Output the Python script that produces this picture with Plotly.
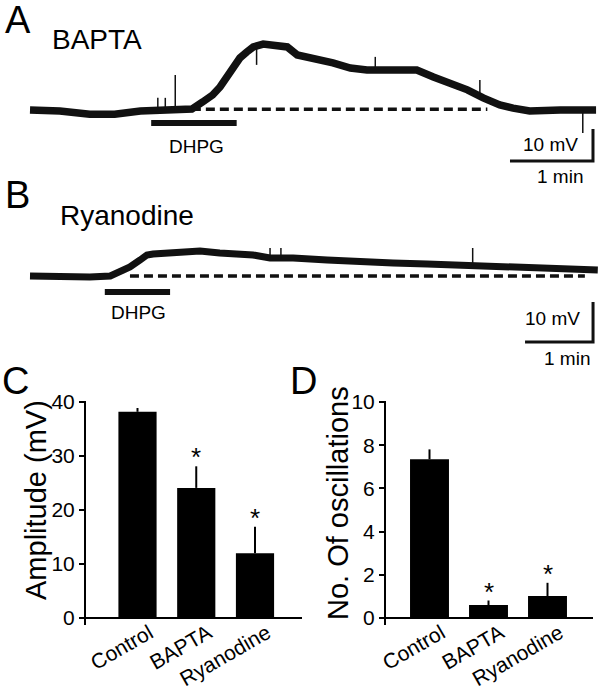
import plotly.graph_objects as go

W, H = 604, 690
FONT = "Liberation Sans, Arial, sans-serif"

# ---------------- Panel A (BAPTA) trace: time (min), membrane potential (mV) ----------------
a_time = [0.00, 0.36, 0.72, 1.02, 1.33, 1.69, 1.95, 2.08, 2.20, 2.29, 2.37, 2.45, 2.53, 2.61,
          2.69, 2.81, 2.98, 3.10, 3.22, 3.46, 3.65, 3.86, 4.06, 4.46, 4.66, 4.86, 5.06, 5.27,
          5.46, 5.66, 5.82, 6.02, 6.39, 6.82]
a_mv = [0.0, -0.3, -1.3, -1.3, -0.3, 0.0, 0.3, 2.5, 4.7, 7.2, 10.3, 13.4, 16.3, 18.1,
        19.7, 20.6, 20.3, 19.7, 17.2, 15.9, 14.7, 13.1, 12.5, 12.5, 12.5, 10.3, 8.4, 6.3,
        3.8, 1.6, 0.6, -0.3, 0.0, 0.0]
# spikes: time, base, tip
a_spike_t = [1.54, 1.63, 1.75, 2.73, 4.16, 5.42, 6.66]
a_spike_base = [0.0, 0.0, 0.0, 19.9, 12.8, 4.0, 0.0]
a_spike_tip = [3.8, 3.8, 10.9, 14.1, 16.6, 9.4, -7.2]
a_dash = [1.95, 5.51]
a_dhpg = [1.46, 2.49]

# ---------------- Panel B (Ryanodine) trace ----------------
b_time = [0.00, 0.44, 0.88, 1.18, 1.32, 1.47, 1.62, 1.72, 1.81, 2.06, 2.31, 2.50, 2.79, 3.28,
          3.53, 3.87, 4.37, 4.85, 5.34, 5.84, 6.32, 6.81, 7.35, 7.79, 8.35]
b_mv = [0.0, -0.25, -0.25, 0.0, 1.0, 2.25, 4.0, 5.25, 5.5, 5.75, 6.0, 6.25, 5.75, 5.25,
        4.5, 4.5, 4.0, 3.5, 3.25, 3.0, 2.75, 2.5, 2.25, 1.75, 1.5]
b_spike_t = [3.53, 3.69, 6.51]
b_spike_base = [4.5, 4.4, 2.7]
b_spike_tip = [7.0, 7.0, 7.0]
b_dash = [1.47, 8.16]
b_dhpg = [1.10, 2.06]

# ---------------- Panels C and D (bar charts) ----------------
groups = ["Control", "BAPTA", "Ryanodine"]
amp_mean = [38.2, 24.1, 12.0]
amp_sem = [0.7, 4.0, 4.9]
osc_mean = [7.35, 0.60, 1.02]
osc_sem = [0.46, 0.21, 0.61]
signif = ["", "*", "*"]

fig = go.Figure()

def spikes(ts, bases, tips):
    xs, ys = [], []
    for t, b, p in zip(ts, bases, tips):
        xs += [t, t, None]
        ys += [b, p, None]
    return xs, ys

line_col = "#111111"

# Panel A
fig.add_trace(go.Scatter(x=a_time, y=a_mv, mode="lines", line=dict(color=line_col, width=7.5),
                         xaxis="x", yaxis="y", hoverinfo="skip"))
sx, sy = spikes(a_spike_t, a_spike_base, a_spike_tip)
fig.add_trace(go.Scatter(x=sx, y=sy, mode="lines", line=dict(color=line_col, width=1.5),
                         xaxis="x", yaxis="y", hoverinfo="skip"))
fig.add_trace(go.Scatter(x=a_dash, y=[0.2, 0.2], mode="lines",
                         line=dict(color=line_col, width=3.5, dash="9px,5px"),
                         xaxis="x", yaxis="y", hoverinfo="skip"))
fig.add_trace(go.Scatter(x=a_dhpg, y=[-4.1, -4.1], mode="lines", line=dict(color=line_col, width=6),
                         xaxis="x", yaxis="y", hoverinfo="skip"))
# scale bar A (1 min x 10 mV)
fig.add_trace(go.Scatter(x=[5.783, 6.783, 6.783], y=[-15.9, -15.9, -5.9], mode="lines",
                         line=dict(color=line_col, width=3), xaxis="x", yaxis="y", hoverinfo="skip"))

# Panel B
fig.add_trace(go.Scatter(x=b_time, y=b_mv, mode="lines", line=dict(color=line_col, width=7),
                         xaxis="x2", yaxis="y2", hoverinfo="skip"))
sx, sy = spikes(b_spike_t, b_spike_base, b_spike_tip)
fig.add_trace(go.Scatter(x=sx, y=sy, mode="lines", line=dict(color=line_col, width=1.5),
                         xaxis="x2", yaxis="y2", hoverinfo="skip"))
fig.add_trace(go.Scatter(x=b_dash, y=[0.0, 0.0], mode="lines",
                         line=dict(color=line_col, width=3.5, dash="9px,5px"),
                         xaxis="x2", yaxis="y2", hoverinfo="skip"))
fig.add_trace(go.Scatter(x=b_dhpg, y=[-4.0, -4.0], mode="lines", line=dict(color=line_col, width=6),
                         xaxis="x2", yaxis="y2", hoverinfo="skip"))
fig.add_trace(go.Scatter(x=[7.28, 8.28, 8.28], y=[-16.5, -16.5, -6.5], mode="lines",
                         line=dict(color=line_col, width=3), xaxis="x2", yaxis="y2", hoverinfo="skip"))

# Panel C bars
xpos = [0, 1, 2]
fig.add_trace(go.Bar(x=xpos, y=amp_mean, width=0.65, marker=dict(color="#000000", line=dict(width=0)),
                     error_y=dict(type="data", array=amp_sem, arrayminus=[0, 0, 0], symmetric=False,
                                  color="#000000", thickness=2, width=0),
                     xaxis="x3", yaxis="y3", hoverinfo="skip"))
# Panel D bars
fig.add_trace(go.Bar(x=xpos, y=osc_mean, width=0.66, marker=dict(color="#000000", line=dict(width=0)),
                     error_y=dict(type="data", array=osc_sem, arrayminus=[0, 0, 0], symmetric=False,
                                  color="#000000", thickness=2, width=0),
                     xaxis="x4", yaxis="y4", hoverinfo="skip"))

def py(p):
    return 1 - p / H

def px(p):
    return p / W

hidden = dict(visible=False, showgrid=False, zeroline=False, fixedrange=True, automargin=False)

tick_font = dict(family=FONT, size=21, color="#000")
cat_font = dict(family=FONT, size=21, color="#000")

fig.update_layout(
    template="none",
    width=W, height=H, margin=dict(l=0, r=0, t=0, b=0, pad=0, autoexpand=False),
    paper_bgcolor="white", plot_bgcolor="rgba(0,0,0,0)", showlegend=False,
    font=dict(family=FONT, color="#000"),
    xaxis=dict(domain=[0, 1], range=[-30 / 83, 574 / 83], anchor="y", **hidden),
    yaxis=dict(domain=[py(180), 1], range=[(110 - 180) / 3.2, 110 / 3.2], anchor="x", **hidden),
    xaxis2=dict(domain=[0, 1], range=[-30 / 68, 574 / 68], anchor="y2", **hidden),
    yaxis2=dict(domain=[py(370), py(180)], range=[(276 - 370) / 4.0, (276 - 180) / 4.0], anchor="x2", **hidden),
    xaxis3=dict(domain=[px(86), px(302)], range=[(86 - 137.5) / 58.75, (302 - 137.5) / 58.75],
                anchor="y3", showgrid=False, zeroline=False, showline=False, ticks="", automargin=False,
                tickvals=xpos, ticktext=groups, tickangle=-30, tickfont=cat_font, fixedrange=True,
                ticklabelshift=12, ticklabelstandoff=-9),
    yaxis3=dict(domain=[py(625), py(401)], range=[-1.3, 40.2], anchor="x3", showgrid=False,
                zeroline=True, zerolinecolor="#000", zerolinewidth=2, automargin=False,
                showline=True, linecolor="#000", linewidth=2, ticks="outside", ticklen=5,
                tickwidth=2, tickcolor="#000", tickvals=[0, 10, 20, 30, 40], tickfont=tick_font,
                fixedrange=True),
    xaxis4=dict(domain=[px(386), px(593)], range=[(386 - 429.5) / 59, (593 - 429.5) / 59],
                anchor="y4", showgrid=False, zeroline=False, showline=False, ticks="", automargin=False,
                tickvals=xpos, ticktext=groups, tickangle=-30, tickfont=cat_font, fixedrange=True,
                ticklabelshift=12, ticklabelstandoff=-9),
    yaxis4=dict(domain=[py(625), py(401)], range=[-0.324, 10.05], anchor="x4", showgrid=False,
                zeroline=True, zerolinecolor="#000", zerolinewidth=2, automargin=False,
                showline=True, linecolor="#000", linewidth=2, ticks="outside", ticklen=5,
                tickwidth=2, tickcolor="#000", tickvals=[0, 2, 4, 6, 8, 10], tickfont=tick_font,
                fixedrange=True),
)

ann = []
def label(text, x, y, size, xanchor="left", yanchor="middle", xref="paper", yref="paper", angle=0):
    ann.append(dict(text=text, x=x, y=y, xref=xref, yref=yref, xanchor=xanchor, yanchor=yanchor,
                    textangle=angle, showarrow=False, font=dict(family=FONT, size=size, color="#000")))

# panel letters
label("A", px(3), py(20), 38)
label("B", px(3), py(195), 38)
label("C", px(0), py(381), 38)
label("D", px(288), py(381), 38)
# titles
label("BAPTA", px(50), py(39), 28)
label("Ryanodine", px(58), py(216), 28)
# y-axis titles of bar panels
label("Amplitude (mV)", px(36), py(500), 29, xanchor="center", angle=-90)
label("No. Of oscillations", px(338), py(503), 29, xanchor="center", angle=-90)
# DHPG labels and scale bar labels (data coordinates)
label("DHPG", 2.0, -11.4, 19, xanchor="center", xref="x", yref="y")
label("10 mV", 6.265, -10.9, 19, xanchor="center", xref="x", yref="y")
label("1 min", 6.386, -20.9, 19, xanchor="center", xref="x", yref="y")
label("DHPG", 1.59, -9.0, 19, xanchor="center", xref="x2", yref="y2")
label("10 mV", 7.69, -10.5, 19, xanchor="center", xref="x2", yref="y2")
label("1 min", 7.90, -20.5, 19, xanchor="center", xref="x2", yref="y2")
# significance stars
for i, s in enumerate(signif):
    if s:
        ann.append(dict(text=s, x=xpos[i], y=amp_mean[i] + amp_sem[i], xref="x3", yref="y3",
                        xanchor="center", yanchor="bottom", yshift=-8, showarrow=False,
                        font=dict(family=FONT, size=26, color="#000")))
        ann.append(dict(text=s, x=xpos[i], y=osc_mean[i] + osc_sem[i], xref="x4", yref="y4",
                        xanchor="center", yanchor="bottom", yshift=-8, showarrow=False,
                        font=dict(family=FONT, size=26, color="#000")))
fig.update_layout(annotations=ann)

fig.write_html("out.html", config={"displayModeBar": False},
               post_script="document.body.style.margin='0';document.body.style.overflow='hidden';")
